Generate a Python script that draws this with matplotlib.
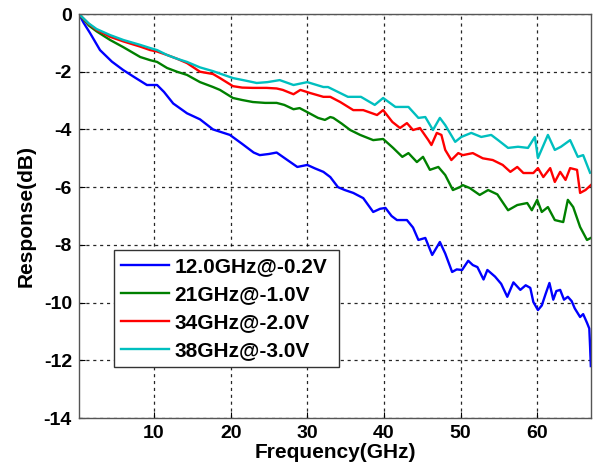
import matplotlib
matplotlib.use("Agg")
import matplotlib.pyplot as plt

# Values (frequency in GHz, response in dB)
blue_x = [0.2, 0.8, 1.65, 2.95, 4.5, 5.97, 7.5, 9.07, 10.4, 11.3, 12.5, 14.3, 16.0,
          17.7, 19.9, 21.5, 23.0, 23.8, 25.0, 26.0, 27.4, 28.7, 30.0, 31.0, 32.1,
          33.0, 34.0, 34.9, 36.0, 37.3, 38.6, 39.5, 40.2, 41.0, 41.7, 43.0, 43.8,
          44.5, 45.4, 46.3, 47.3, 48.0, 48.9, 49.5, 50.2, 51.0, 51.6, 52.2, 53.0,
          53.5, 54.5, 55.3, 56.1, 56.9, 57.8, 58.5, 59.1, 59.5, 60.1, 60.6, 61.1,
          61.6, 62.1, 62.5, 63.0, 63.5, 64.0, 64.5, 64.9, 65.6, 66.0, 66.5, 66.8,
          66.9, 67.0]
blue_y = [0, -0.3, -0.66, -1.25, -1.65, -1.94, -2.2, -2.46, -2.46, -2.7, -3.1, -3.44,
          -3.65, -4.0, -4.19, -4.5, -4.8, -4.89, -4.85, -4.8, -5.06, -5.3, -5.23,
          -5.35, -5.47, -5.65, -6.0, -6.1, -6.2, -6.38, -6.86, -6.75, -6.72, -7.0,
          -7.14, -7.14, -7.4, -7.83, -7.76, -8.35, -7.9, -8.3, -8.94, -8.85, -8.87,
          -8.55, -8.7, -8.77, -9.2, -8.87, -9.1, -9.35, -9.8, -9.3, -9.56, -9.4,
          -9.49, -9.98, -10.26, -10.1, -9.7, -9.32, -9.9, -9.6, -9.56, -9.9, -9.8,
          -9.95, -10.2, -10.5, -10.4, -10.7, -10.9, -11.5, -12.2]

green_x = [0.2, 1.5, 2.5, 4.27, 6.0, 8.2, 9.5, 10.4, 11.7, 13.0, 14.3, 16.0, 17.7,
           18.6, 20.3, 21.5, 22.9, 24.5, 26.0, 27.0, 28.2, 29.0, 30.0, 31.4, 32.3,
           33.0, 33.4, 34.5, 35.6, 36.9, 38.6, 39.9, 41.2, 42.4, 43.2, 44.3, 45.1,
           46.0, 47.1, 48.0, 49.0, 49.9, 50.3, 51.2, 52.5, 53.6, 54.8, 56.2, 57.4,
           58.7, 59.3, 60.0, 60.6, 61.4, 62.3, 63.4, 64.0, 64.7, 65.6, 66.5, 67.0]
green_y = [0, -0.4, -0.6, -0.9, -1.15, -1.49, -1.6, -1.66, -1.87, -2.0, -2.11, -2.36,
           -2.53, -2.63, -2.91, -2.98, -3.05, -3.08, -3.08, -3.15, -3.3, -3.26, -3.4,
           -3.6, -3.67, -3.57, -3.6, -3.8, -4.02, -4.19, -4.37, -4.33, -4.64, -4.95,
           -4.82, -5.13, -4.95, -5.4, -5.3, -5.58, -6.1, -6.0, -5.93, -6.03, -6.27,
           -6.1, -6.25, -6.8, -6.62, -6.55, -6.8, -6.44, -6.86, -6.69, -7.14, -7.21,
           -6.44, -6.69, -7.38, -7.83, -7.76]

red_x = [0.2, 1.5, 2.5, 4.27, 6.0, 8.2, 9.5, 10.4, 11.7, 13.0, 14.3, 16.0, 17.7, 18.6,
         20.3, 21.5, 22.9, 24.7, 26.0, 26.8, 28.2, 29.1, 30.4, 32.1, 33.0, 34.3, 36.0,
         37.3, 39.1, 39.9, 41.1, 42.1, 43.0, 43.8, 44.7, 45.8, 46.2, 46.9, 47.5, 48.0,
         48.8, 49.7, 50.3, 51.6, 52.9, 54.2, 55.5, 56.5, 57.4, 58.2, 59.5, 60.1, 60.8,
         61.7, 62.3, 63.0, 63.7, 64.3, 65.2, 65.6, 66.3, 67.0]
red_y = [0, -0.35, -0.55, -0.79, -0.95, -1.13, -1.25, -1.3, -1.42, -1.55, -1.7, -2.0,
         -2.08, -2.22, -2.5, -2.55, -2.56, -2.56, -2.58, -2.63, -2.78, -2.63, -2.74,
         -2.87, -2.87, -3.05, -3.33, -3.33, -3.5, -3.33, -3.74, -3.95, -3.78, -4.02,
         -3.95, -4.37, -4.54, -4.12, -4.19, -4.71, -5.06, -4.82, -4.89, -4.82, -5.0,
         -5.06, -5.23, -5.47, -5.3, -5.51, -5.51, -5.34, -5.65, -5.34, -5.82, -5.47,
         -5.75, -5.34, -5.4, -6.2, -6.1, -5.93]

cyan_x = [0.2, 1.5, 2.5, 4.27, 6.0, 8.2, 9.5, 10.4, 11.7, 13.0, 14.3, 16.0, 17.7,
          20.3, 21.8, 23.4, 24.8, 26.4, 28.2, 30.0, 32.1, 32.7, 35.3, 37.0, 38.8,
          39.9, 41.5, 43.2, 44.5, 45.4, 46.4, 47.3, 48.0, 49.3, 50.1, 51.4, 52.7,
          54.0, 54.9, 56.2, 57.5, 58.8, 59.7, 60.1, 61.4, 62.3, 63.1, 64.3, 65.3,
          66.0, 66.9]
cyan_y = [0, -0.33, -0.52, -0.73, -0.9, -1.07, -1.18, -1.25, -1.42, -1.55, -1.66,
          -1.85, -1.98, -2.22, -2.3, -2.39, -2.36, -2.29, -2.46, -2.36, -2.53, -2.53,
          -2.87, -2.87, -3.15, -2.91, -3.22, -3.22, -3.6, -3.57, -4.02, -3.6, -3.85,
          -4.43, -4.26, -4.12, -4.26, -4.19, -4.37, -4.64, -4.6, -4.64, -4.26, -4.99,
          -4.19, -4.71, -4.6, -4.37, -4.95, -4.89, -5.5]

labels = ["12.0GHz@-0.2V", "21GHz@-1.0V", "34GHz@-2.0V", "38GHz@-3.0V"]
colors = ["#0000ff", "#008000", "#ff0000", "#00bfbf"]
x_ticks = [10, 20, 30, 40, 50, 60]
y_ticks = [0, -2, -4, -6, -8, -10, -12, -14]

plt.rcParams["font.family"] = ["Liberation Sans", "DejaVu Sans"]
plt.rcParams["font.weight"] = "bold"
plt.rcParams["axes.unicode_minus"] = False

fig = plt.figure(figsize=(5.98, 4.72), dpi=100)
ax = fig.add_axes([0.132, 0.1144, 0.856, 0.8559])

series = [(blue_x, blue_y), (green_x, green_y), (red_x, red_y), (cyan_x, cyan_y)]
for (xs, ys), c, lab in zip(series, colors, labels):
    ax.plot(xs, ys, color=c, lw=1.7, label=lab)

ax.set_xlim(0.2, 67)
ax.set_ylim(-14, 0)
ax.set_xticks(x_ticks)
ax.set_yticks(y_ticks)
ax.grid(True, color="black", linestyle=(0, (2.5, 3)), lw=0.9, alpha=0.85)
ax.tick_params(direction="in", length=4, labelsize=14, width=0.8, pad=5)
for lbl in ax.get_xticklabels() + ax.get_yticklabels():
    lbl.set_fontweight("bold")
for s in ax.spines.values():
    s.set_color("#555555")
    s.set_linewidth(1.0)

ax.set_xlabel("Frequency(GHz)", fontsize=15, fontweight="bold", labelpad=1)
ax.set_ylabel("Response(dB)", fontsize=15, fontweight="bold", labelpad=6)

leg = ax.legend(loc="lower left", bbox_to_anchor=(0.068, 0.126, 0.44, 0.292),
                mode="expand", fancybox=False, framealpha=1, edgecolor="#333333",
                prop={"size": 15, "weight": "bold"}, handlelength=2.3,
                borderaxespad=0, labelspacing=0.42, handletextpad=0.25,
                borderpad=0.35)
leg.get_frame().set_linewidth(1.0)

fig.savefig("out.png", dpi=100)
